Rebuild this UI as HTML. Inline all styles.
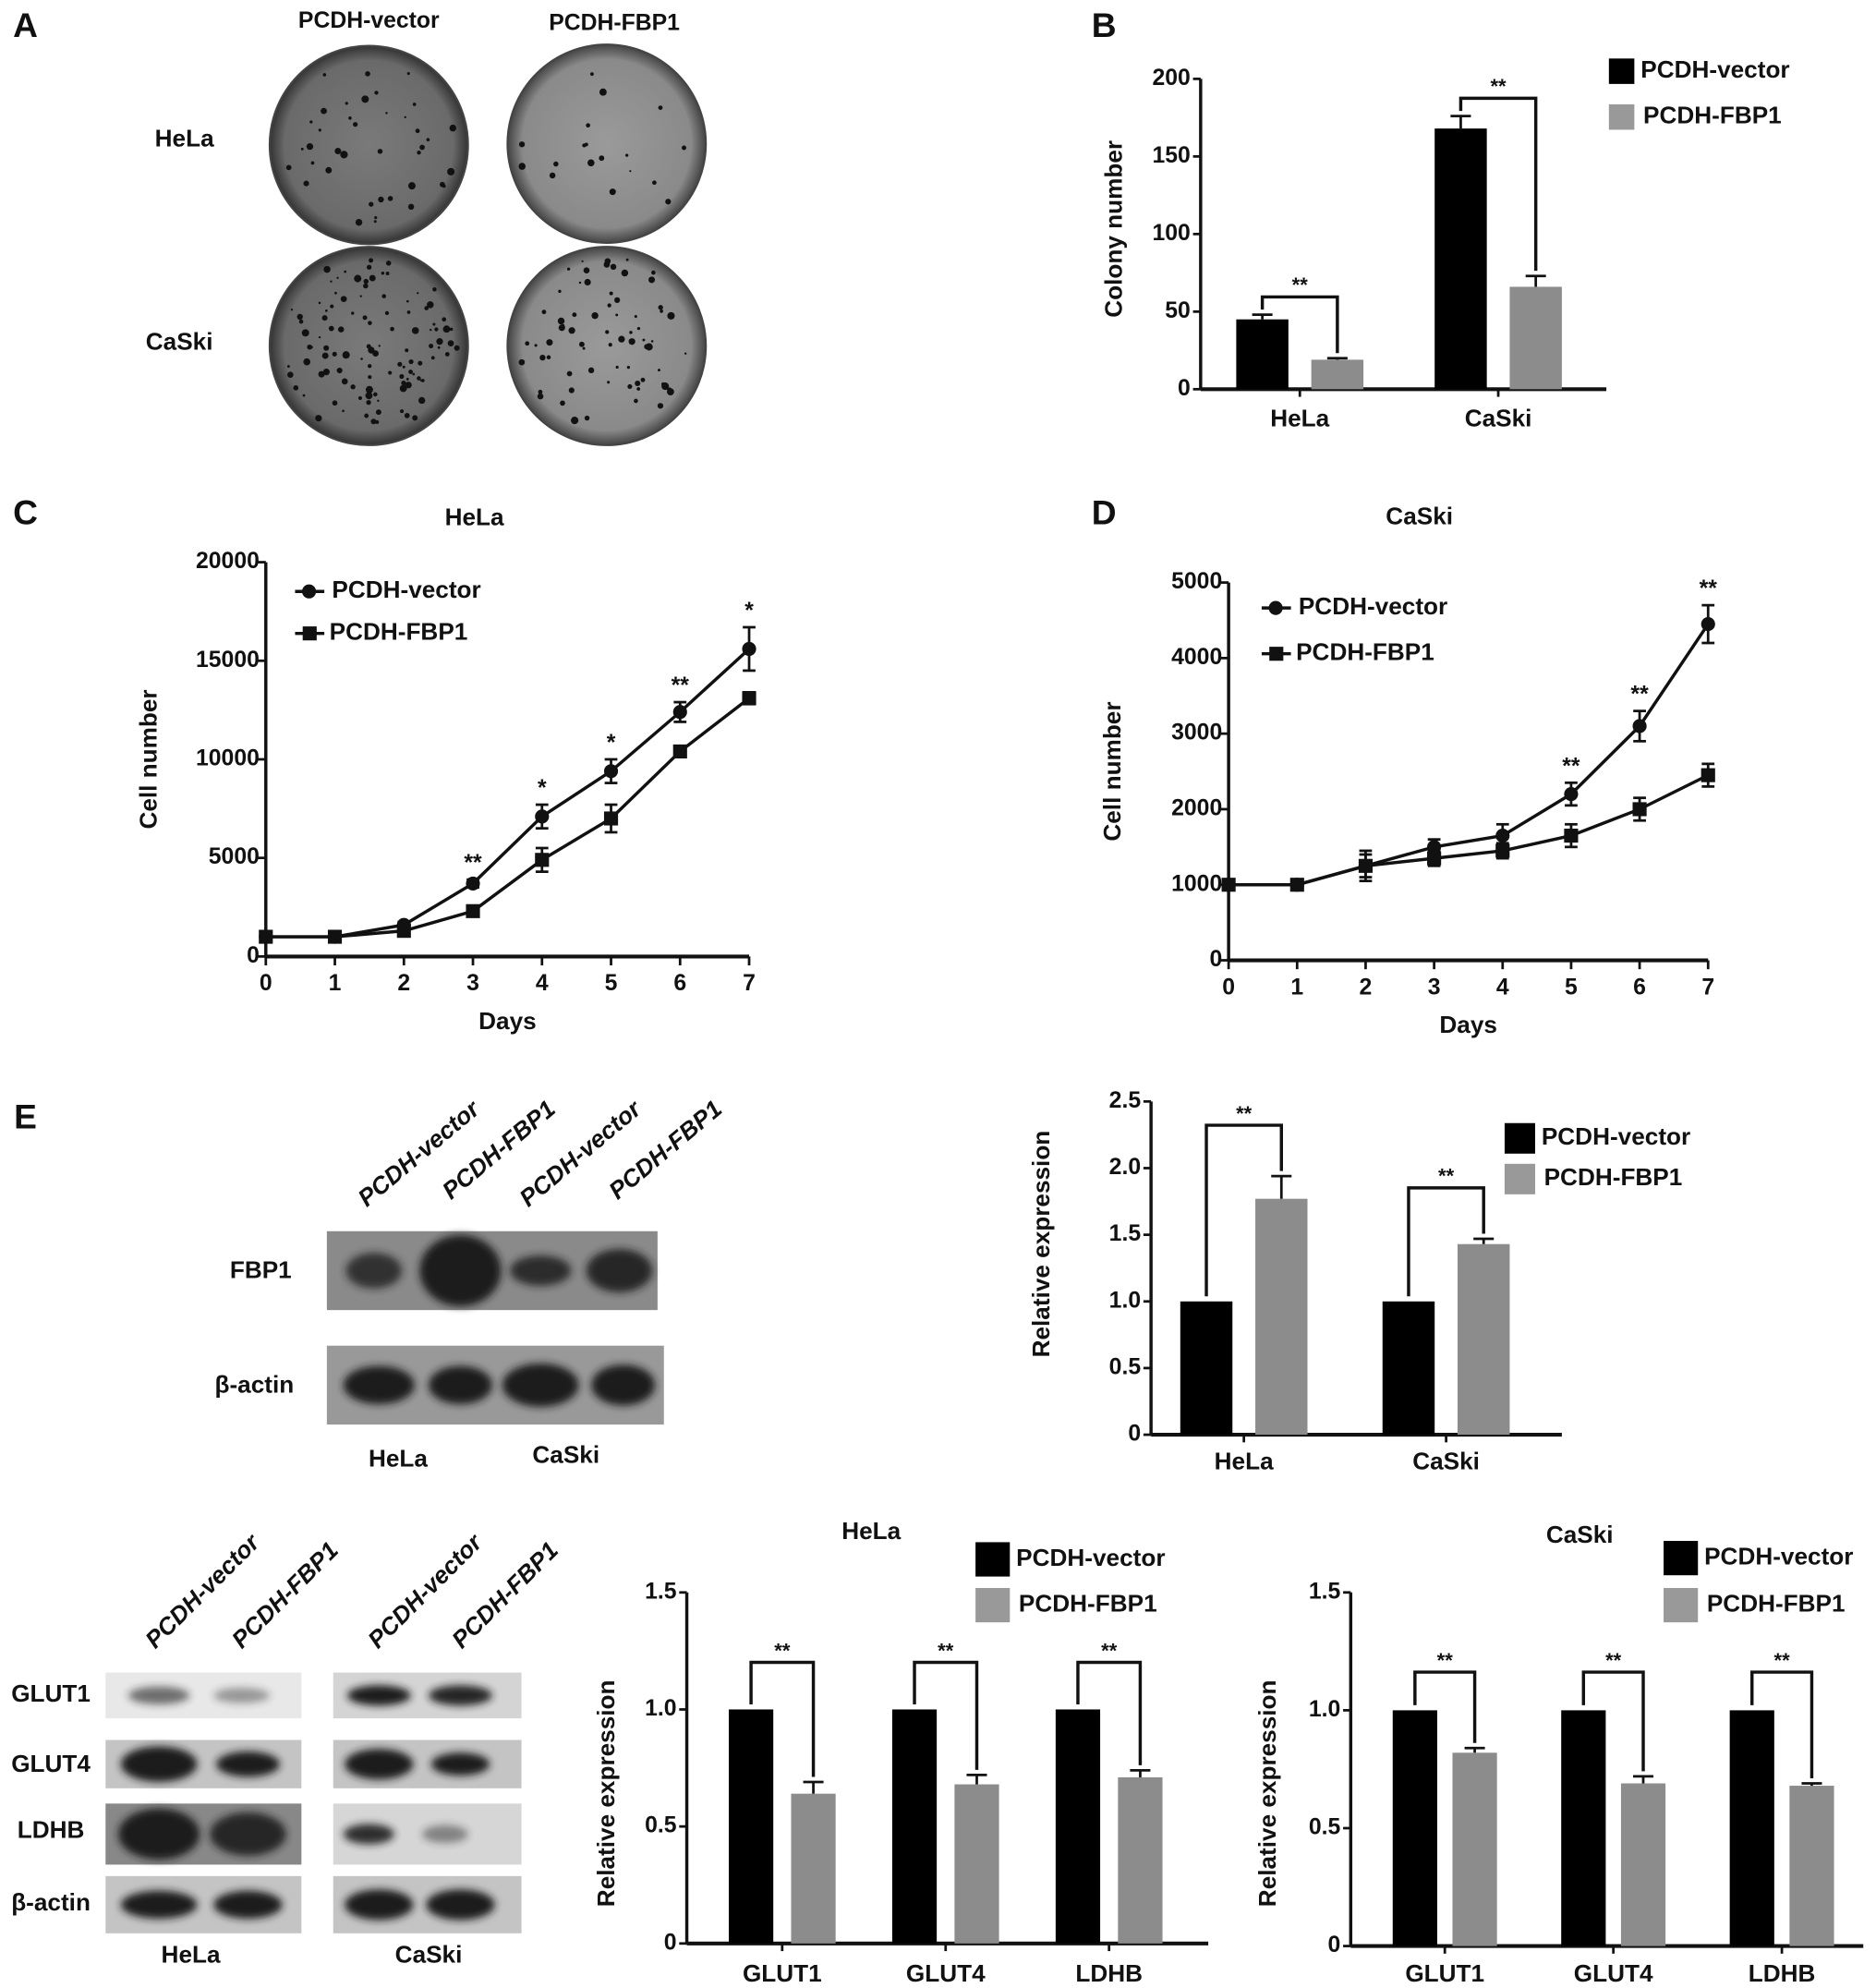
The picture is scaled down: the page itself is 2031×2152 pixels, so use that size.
<!DOCTYPE html>
<html><head><meta charset="utf-8"><style>
html,body{margin:0;padding:0;background:#fff;}
svg{display:block;}
text{font-family:"Liberation Sans",sans-serif;font-weight:bold;fill:#111;}
</style></head><body>
<svg id="fig" width="2031" height="2152" viewBox="0 0 1475 1563" preserveAspectRatio="none" xmlns="http://www.w3.org/2000/svg">
<defs>
<radialGradient id="plateG" cx="50%" cy="50%" r="50%"><stop offset="0" stop-color="#7a7a7a"/><stop offset="0.85" stop-color="#6a6a6a"/><stop offset="1" stop-color="#333"/></radialGradient>
<radialGradient id="plateG2" cx="50%" cy="50%" r="50%"><stop offset="0" stop-color="#9a9a9a"/><stop offset="0.85" stop-color="#8a8a8a"/><stop offset="1" stop-color="#444"/></radialGradient>
<filter id="blur" x="-30%" y="-60%" width="160%" height="220%"><feGaussianBlur stdDeviation="3"/></filter>
</defs>
<g id="root"></g>
</svg>
<script>
// ---------- Data ----------
const bCats = ["HeLa", "CaSki"];
const bVector = [45, 168];
const bVectorErr = [3, 8];
const bFbp1 = [19, 66];
const bFbp1Err = [1, 7];
const bTicks = [0, 50, 100, 150, 200];
const days = [0, 1, 2, 3, 4, 5, 6, 7];
const cVector = [1000, 1000, 1600, 3700, 7100, 9400, 12400, 15600];
const cVectorErr = [100, 100, 150, 200, 600, 600, 500, 1100];
const cFbp1 = [1000, 1000, 1300, 2300, 4900, 7000, 10400, 13100];
const cFbp1Err = [100, 100, 200, 200, 600, 700, 200, 300];
const cStars = ["", "", "", "**", "*", "*", "**", "*"];
const cTicks = [0, 5000, 10000, 15000, 20000];
const dVector = [1000, 1000, 1250, 1500, 1650, 2200, 3100, 4450];
const dVectorErr = [50, 50, 150, 100, 150, 150, 200, 250];
const dFbp1 = [1000, 1000, 1250, 1350, 1450, 1650, 2000, 2450];
const dFbp1Err = [50, 50, 200, 100, 100, 150, 150, 150];
const dStars = ["", "", "", "", "", "**", "**", "**"];
const dTicks = [0, 1000, 2000, 3000, 4000, 5000];
const eCats = ["HeLa", "CaSki"];
const eVector = [1.0, 1.0];
const eFbp1 = [1.77, 1.43];
const eFbp1Err = [0.17, 0.04];
const eTicks = [0, 0.5, 1.0, 1.5, 2.0, 2.5];
const gCats = ["GLUT1", "GLUT4", "LDHB"];
const hVector = [1.0, 1.0, 1.0];
const hFbp1 = [0.64, 0.68, 0.71];
const hFbp1Err = [0.05, 0.04, 0.03];
const kVector = [1.0, 1.0, 1.0];
const kFbp1 = [0.82, 0.69, 0.68];
const kFbp1Err = [0.02, 0.03, 0.01];
const gTicks = [0, 0.5, 1.0, 1.5];

const NS = "http://www.w3.org/2000/svg";
const root = document.getElementById("root");
function mk(tag, attrs, parent) {
  const e = document.createElementNS(NS, tag);
  for (const k in attrs) e.setAttribute(k, attrs[k]);
  (parent || root).appendChild(e);
  return e;
}
function txt(s, x, y, size, name, opts) {
  opts = opts || {};
  const t = mk("text", {x: x, y: y, "font-size": size, "text-anchor": opts.anchor || "middle", "dominant-baseline": "middle"}, opts.parent);
  if (opts.rot) t.setAttribute("transform", "rotate(" + opts.rot + " " + x + " " + y + ")");
  if (opts.italic) t.setAttribute("font-style", "italic");
  t.textContent = s;
  
  
  return t;
}
function line(x1, y1, x2, y2, w, name) {
  const l = mk("line", {x1: x1, y1: y1, x2: x2, y2: y2, stroke: "#111", "stroke-width": w || 2});
  
  
  return l;
}
function errbar(x, yTop, yMid, hw, name) {
  line(x, yMid, x, yTop, 2, name);
  line(x - hw, yTop, x + hw, yTop, 2, name);
}
function bracket(x1, x2, y, y1b, y2b, label, name) {
  const p = mk("path", {d: "M" + x1 + " " + y1b + " L" + x1 + " " + y + " L" + x2 + " " + y + " L" + x2 + " " + y2b, fill: "none", stroke: "#111", "stroke-width": 2.5});
  
  
  txt(label, (x1 + x2) / 2, y - 8, 16, name + '-label');
}

txt("A", 20, 22, 27, "panel-a-label");
txt("B", 868, 22, 27, "panel-b-label");
txt("C", 20, 405, 27, "panel-c-label");
txt("D", 868, 405, 27, "panel-d-label");
txt("E", 20, 880, 27, "panel-e-label");

txt("PCDH-vector", 290, 17, 18, "plate-col-vector");
txt("PCDH-FBP1", 483, 19, 18, "plate-col-fbp1");
txt("HeLa", 145, 110, 19, "plate-row-hela");
txt("CaSki", 141, 270, 19, "plate-row-caski");
const plates = [[290, 114, "url(#plateG)", 40], [477, 113, "url(#plateG2)", 18], [290, 272, "url(#plateG)", 110], [477, 272, "url(#plateG2)", 70]];
let seed = 7;
function rnd() { seed = (seed * 9301 + 49297) % 233280; return seed / 233280; }
plates.forEach(function(p, i) {
  const c = mk("ellipse", {cx: p[0], cy: p[1], rx: 78, ry: 78, fill: p[2], stroke: "#444", "stroke-width": 1.5});
  
  
  for (let k = 0; k < p[3]; k++) {
    const a = rnd() * 6.283, r = Math.sqrt(rnd()) * 70;
    const d = mk("circle", {cx: p[0] + r * Math.cos(a), cy: p[1] + r * Math.sin(a), r: 0.8 + rnd() * 2.2, fill: "#111"});
    
    
  }
});

function barChart(cfg) {
  const ys = function(v) { return cfg.y0 + (cfg.yTop - cfg.y0) * (v / cfg.yMax); };
  line(cfg.ax, cfg.yTop, cfg.ax, cfg.y0, 2.5, cfg.name + '-y-axis');
  line(cfg.ax, cfg.y0, cfg.axEnd, cfg.y0, 3, cfg.name + '-x-axis');
  cfg.ticks.forEach(function(t) {
    line(cfg.ax - 6, ys(t), cfg.ax, ys(t), 2, cfg.name + '-y-tick');
    txt(cfg.fmt(t), cfg.ax - 8, ys(t), 18, cfg.name + '-y-tick-label', {anchor: "end"});
  });
  txt(cfg.ytitle, cfg.ytx, cfg.yty, 19, cfg.name + '-y-axis-title', {rot: -90});
  cfg.cats.forEach(function(c, i) {
    const bx = cfg.x0 + i * cfg.step;
    const gx = bx + cfg.gap;
    const b1 = mk("rect", {x: bx, y: ys(cfg.v1[i]), width: cfg.bw, height: cfg.y0 - ys(cfg.v1[i]), fill: "#000"});
    
    
    if (cfg.e1) errbar(bx + cfg.bw / 2, ys(cfg.v1[i] + cfg.e1[i]), ys(cfg.v1[i]), 8, 'error-bar-vector');
    const b2 = mk("rect", {x: gx, y: ys(cfg.v2[i]), width: cfg.bw, height: cfg.y0 - ys(cfg.v2[i]), fill: "#8c8c8c"});
    
    
    errbar(gx + cfg.bw / 2, ys(cfg.v2[i] + cfg.e2[i]), ys(cfg.v2[i]), 8, 'error-bar-fbp1');
    const tx = bx + (cfg.gap + cfg.bw) / 2;
    line(tx, cfg.y0, tx, cfg.y0 + 6, 2, cfg.name + '-x-tick');
    txt(c, tx, cfg.catY, 19, cfg.name + '-x-label-' + c.toLowerCase());
    const by = Math.min(ys(cfg.v1[i] + (cfg.e1 ? cfg.e1[i] : 0)), ys(cfg.v2[i] + cfg.e2[i])) - cfg.brk;
    bracket(bx + cfg.bw / 2, gx + cfg.bw / 2, by, ys(cfg.v1[i] + (cfg.e1 ? cfg.e1[i] : 0)) - 4, ys(cfg.v2[i] + cfg.e2[i]) - 4, "**", cfg.name + '-significance');
  });
  const l1 = mk("rect", {x: cfg.lx, y: cfg.ly - cfg.ls / 2, width: cfg.ls, height: cfg.ls, fill: "#000"});
  
  
  txt("PCDH-vector", cfg.lx + cfg.ls + 5, cfg.ly, 19, 'legend-entry-vector', {anchor: "start"});
  const l2 = mk("rect", {x: cfg.lx, y: cfg.ly + cfg.ldy - cfg.ls / 2, width: cfg.ls, height: cfg.ls, fill: "#999"});
  
  
  txt("PCDH-FBP1", cfg.lx + cfg.ls + 7, cfg.ly + cfg.ldy, 19, 'legend-entry-fbp1', {anchor: "start"});
  if (cfg.title) txt(cfg.title, cfg.tx, cfg.ty, 19, cfg.name + '-title');
}

barChart({name: "colony-chart", ax: 944, axEnd: 1263, y0: 306, yTop: 62, yMax: 200, ticks: bTicks, fmt: function(t){return String(t);},
  ytitle: "Colony number", ytx: 877, yty: 180, cats: bCats, v1: bVector, e1: bVectorErr, v2: bFbp1, e2: bFbp1Err,
  x0: 972, step: 156, gap: 59, bw: 41, catY: 330, brk: 14, lx: 1265, ly: 56, ls: 20, ldy: 36});

function lineChart(cfg) {
  const xs = function(d) { return cfg.ax + (cfg.xEnd - cfg.ax) * d / 7; };
  const ys = function(v) { return cfg.y0 + (cfg.yTop - cfg.y0) * v / cfg.yMax; };
  line(cfg.ax, cfg.yTop, cfg.ax, cfg.y0, 2.5, cfg.name + '-y-axis');
  line(cfg.ax, cfg.y0, cfg.xEnd, cfg.y0, 3, cfg.name + '-x-axis');
  cfg.ticks.forEach(function(t) {
    line(cfg.ax - 6, ys(t), cfg.ax, ys(t), 2, cfg.name + '-y-tick');
    txt(String(t), cfg.ax - 5, ys(t), 18, cfg.name + '-y-tick-label', {anchor: "end"});
  });
  days.forEach(function(d) {
    line(xs(d), cfg.y0, xs(d), cfg.y0 + 7, 2, cfg.name + '-x-tick');
    txt(String(d), xs(d), cfg.y0 + 22, 18, cfg.name + '-x-tick-label');
  });
  txt("Days", (cfg.ax + cfg.xEnd) / 2, cfg.y0 + 52, 19, cfg.name + '-x-axis-title');
  txt("Cell number", cfg.ytx, (cfg.yTop + cfg.y0) / 2, 19, cfg.name + '-y-axis-title', {rot: -90});
  txt(cfg.title, cfg.tx, cfg.ty, 19, cfg.name + '-title');
  [[cfg.v1, cfg.e1, "vector"], [cfg.v2, cfg.e2, "fbp1"]].forEach(function(s) {
    const pts = s[0].map(function(v, i) { return xs(days[i]) + "," + ys(v); }).join(" ");
    const pl = mk("polyline", {points: pts, fill: "none", stroke: "#111", "stroke-width": 2.5});
    
    
    s[0].forEach(function(v, i) {
      const x = xs(days[i]);
      errbar(x, ys(v + s[1][i]), ys(v), 5, 'error-bar-' + s[2]);
      errbar(x, ys(v - s[1][i]), ys(v), 5, 'error-bar-' + s[2]);
      let m;
      if (s[2] === "vector") m = mk("circle", {cx: x, cy: ys(v), r: 5.5, fill: "#111"});
      else m = mk("rect", {x: x - 5.5, y: ys(v) - 5.5, width: 11, height: 11, fill: "#111"});
      
      
    });
  });
  cfg.stars.forEach(function(s, i) {
    if (s) txt(s, xs(days[i]), ys(cfg.v1[i] + cfg.e1[i]) - 12, 18, 'significance-star');
  });
  line(cfg.lx, cfg.ly, cfg.lx + 23, cfg.ly, 2.5, 'legend-line-vector');
  const c1 = mk("circle", {cx: cfg.lx + 11, cy: cfg.ly, r: 5.5, fill: "#111"});
  
  
  txt("PCDH-vector", cfg.lx + 29, cfg.ly, 19, 'legend-entry-vector', {anchor: "start"});
  line(cfg.lx, cfg.ly + cfg.ldy, cfg.lx + 23, cfg.ly + cfg.ldy, 2.5, 'legend-line-fbp1');
  const r1 = mk("rect", {x: cfg.lx + 6, y: cfg.ly + cfg.ldy - 5.5, width: 11, height: 11, fill: "#111"});
  
  
  txt("PCDH-FBP1", cfg.lx + 27, cfg.ly + cfg.ldy, 19, 'legend-entry-fbp1', {anchor: "start"});
}
lineChart({name: "hela-growth", ax: 209, xEnd: 589, y0: 752, yTop: 442, yMax: 20000, ticks: cTicks,
  v1: cVector, e1: cVectorErr, v2: cFbp1, e2: cFbp1Err, stars: cStars, title: "HeLa", tx: 373, ty: 408, ytx: 118, lx: 232, ly: 465, ldy: 33});
lineChart({name: "caski-growth", ax: 966, xEnd: 1343, y0: 755, yTop: 458, yMax: 5000, ticks: dTicks,
  v1: dVector, e1: dVectorErr, v2: dFbp1, e2: dFbp1Err, stars: dStars, title: "CaSki", tx: 1116, ty: 407, ytx: 876, lx: 992, ly: 478, ldy: 36});

function blot(x, y, w, h, bands, name, bg) {
  const g = mk("g", {});
  
  
  mk("rect", {x: x, y: y, width: w, height: h, fill: bg || "#a8a8a8"}, g);
  bands.forEach(function(b) {
    mk("ellipse", {cx: b[0], cy: y + h / 2, rx: b[1], ry: b[2], fill: "#1a1a1a", opacity: b[3], filter: "url(#blur)"}, g);
  });
}
txt("PCDH-vector", 330, 908, 19, "blot-lane-label", {rot: -40, italic: true});
txt("PCDH-FBP1", 393, 905, 19, "blot-lane-label", {rot: -40, italic: true});
txt("PCDH-vector", 457, 908, 19, "blot-lane-label", {rot: -40, italic: true});
txt("PCDH-FBP1", 524, 905, 19, "blot-lane-label", {rot: -40, italic: true});
blot(257, 968, 260, 62, [[294, 22, 14, 0.8], [362, 32, 28, 1], [425, 24, 12, 0.85], [487, 26, 17, 0.9]], "blot-fbp1", "#8a8a8a");
blot(257, 1058, 265, 62, [[298, 28, 15, 1], [362, 25, 15, 1], [425, 30, 17, 1], [490, 25, 16, 1]], "blot-beta-actin", "#999");
txt("FBP1", 205, 1000, 19, "blot-row-fbp1");
txt("β-actin", 200, 1090, 19, "blot-row-beta-actin");
txt("HeLa", 313, 1148, 19, "blot-group-hela");
txt("CaSki", 445, 1145, 19, "blot-group-caski");

barChart({name: "fbp1-expression", ax: 905, axEnd: 1228, y0: 1128, yTop: 866, yMax: 2.5, ticks: eTicks, fmt: function(t){return t === 0 ? "0" : t.toFixed(1);},
  ytitle: "Relative expression", ytx: 820, yty: 978, cats: eCats, v1: eVector, e1: null, v2: eFbp1, e2: eFbp1Err,
  x0: 928, step: 159, gap: 59, bw: 41, catY: 1150, brk: 40, lx: 1183, ly: 895, ls: 24, ldy: 32});

txt("PCDH-vector", 160, 1252, 19, "blot-lane-label", {rot: -45, italic: true});
txt("PCDH-FBP1", 225, 1255, 19, "blot-lane-label", {rot: -45, italic: true});
txt("PCDH-vector", 335, 1252, 19, "blot-lane-label", {rot: -45, italic: true});
txt("PCDH-FBP1", 398, 1255, 19, "blot-lane-label", {rot: -45, italic: true});
blot(83, 1315, 154, 36, [[125, 24, 7, 0.6], [190, 22, 6, 0.4]], "blot-hela-glut1", "#e8e8e8");
blot(262, 1315, 148, 36, [[298, 25, 8, 1], [362, 25, 8, 0.95]], "blot-caski-glut1", "#d4d4d4");
blot(83, 1368, 154, 38, [[125, 30, 14, 1], [195, 25, 10, 1]], "blot-hela-glut4", "#c4c4c4");
blot(262, 1368, 148, 38, [[298, 27, 12, 1], [362, 23, 9, 1]], "blot-caski-glut4", "#c4c4c4");
blot(83, 1418, 154, 48, [[125, 32, 20, 1], [195, 30, 17, 0.9]], "blot-hela-ldhb", "#888");
blot(262, 1418, 148, 48, [[290, 20, 8, 0.9], [350, 18, 7, 0.45]], "blot-caski-ldhb", "#d6d6d6");
blot(83, 1475, 154, 45, [[125, 30, 11, 1], [195, 27, 11, 1]], "blot-hela-beta-actin", "#c4c4c4");
blot(262, 1475, 148, 45, [[298, 27, 12, 1], [362, 27, 12, 1]], "blot-caski-beta-actin", "#c4c4c4");
txt("GLUT1", 40, 1333, 19, "blot-row-glut1");
txt("GLUT4", 40, 1388, 19, "blot-row-glut4");
txt("LDHB", 40, 1440, 19, "blot-row-ldhb");
txt("β-actin", 40, 1497, 19, "blot-row-beta-actin-2");
txt("HeLa", 150, 1538, 19, "blot-group-hela-2");
txt("CaSki", 337, 1538, 19, "blot-group-caski-2");

barChart({name: "hela-expression", ax: 540, axEnd: 950, y0: 1528, yTop: 1252, yMax: 1.5, ticks: gTicks, fmt: function(t){return t === 0 ? "0" : t.toFixed(1);},
  ytitle: "Relative expression", ytx: 478, yty: 1410, cats: gCats, v1: hVector, e1: null, v2: hFbp1, e2: hFbp1Err,
  x0: 573, step: 128.5, gap: 49, bw: 35, catY: 1553, brk: 37, lx: 767, ly: 1226, ls: 27, ldy: 36,
  title: "HeLa", tx: 685, ty: 1205});
barChart({name: "caski-expression", ax: 1062, axEnd: 1465, y0: 1530, yTop: 1252, yMax: 1.5, ticks: gTicks, fmt: function(t){return t === 0 ? "0" : t.toFixed(1);},
  ytitle: "Relative expression", ytx: 998, yty: 1410, cats: gCats, v1: kVector, e1: null, v2: kFbp1, e2: kFbp1Err,
  x0: 1095, step: 132.5, gap: 47, bw: 35, catY: 1553, brk: 30, lx: 1308, ly: 1225, ls: 27, ldy: 37,
  title: "CaSki", tx: 1242, ty: 1208});
</script>
</body></html>
